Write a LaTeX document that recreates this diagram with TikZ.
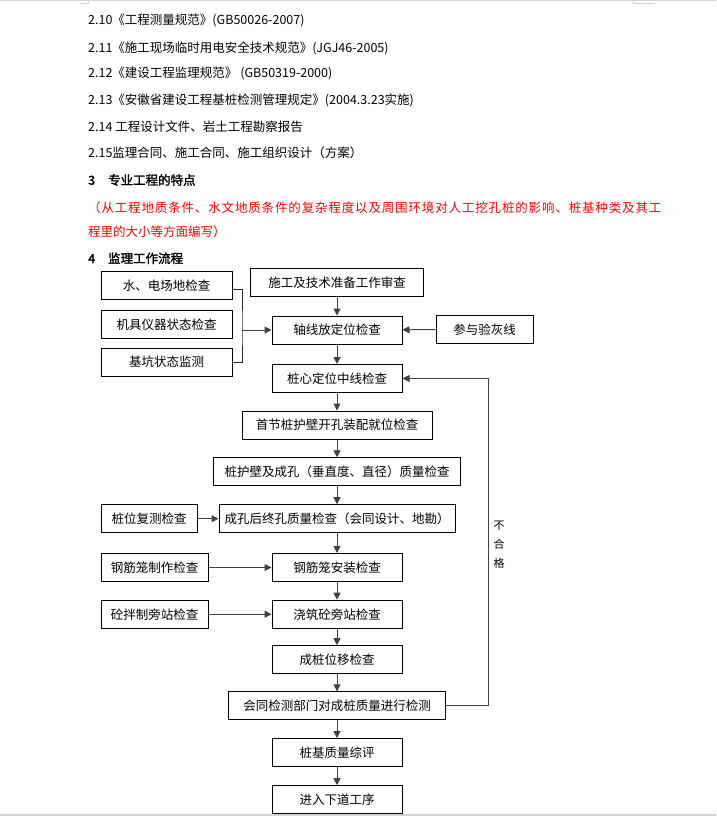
\documentclass[tikz,border=0pt]{standalone}
\usepackage{fontspec}
\setmainfont{Noto Sans CJK SC}
\newfontfamily\headfont[FakeBold=2]{Noto Sans CJK SC}
\usetikzlibrary{arrows.meta}
\usepackage{xcolor}
\definecolor{edge}{HTML}{D4D4D4}
\definecolor{remark}{HTML}{FF0000}

\begin{document}
\begin{tikzpicture}[x=1pt, y=-1pt,
  box/.style = {rectangle, draw=black, line width=1pt, inner sep=0pt,
                minimum height=28pt, font=\fontsize{12.5pt}{15pt}\selectfont},
  txt/.style = {anchor=west, inner sep=0pt, font=\fontsize{12.5pt}{15pt}\selectfont},
  arr/.style = {-{Triangle[length=7pt,width=7pt]}, line width=1pt, color=black!75},
  ln/.style  = {line width=1pt, color=black!85}
]
\useasboundingbox (0,0) rectangle (716,816);
% page edges
\fill[edge] (0,0) rectangle (716,1);
\fill[edge] (0,814) rectangle (716,816);
\draw[edge, line width=1pt] (80,4) -- (88,4) -- (88,0);
\draw[edge, line width=1pt] (633,0) -- (633,4) -- (655,4);

% header text
\node[txt] (l10) at (88, 20.7) {2.10《工程测量规范》(GB50026-2007)};
\node[txt] (l11) at (88, 48.3) {2.11《施工现场临时用电安全技术规范》(JGJ46-2005)};
\node[txt] (l12) at (88, 73.3) {2.12《建设工程监理规范》 (GB50319-2000)};
\node[txt] (l13) at (88, 100) {2.13《安徽省建设工程基桩检测管理规定》(2004.3.23实施)};
\node[txt] (l14) at (88, 126.7) {2.14 工程设计文件、岩土工程勘察报告};
\node[txt] (l15) at (88, 152.7) {2.15监理合同、施工合同、施工组织设计（方案）};
\node[txt, font=\fontsize{12.5pt}{15pt}\selectfont\headfont] (h3) at (88, 180) {3\hspace{13pt}专业工程的特点};
\node[txt, text=remark] (r1) at (88, 207.3) {\addfontfeature{LetterSpace=6.8}（从工程地质条件、水文地质条件的复杂程度以及周围环境对人工挖孔桩的影响、桩基种类及其工};
\node[txt, text=remark] (r2) at (88, 232) {程里的大小等方面编写）};
\node[txt, font=\fontsize{12.5pt}{15pt}\selectfont\headfont] (h4) at (88, 258.3) {4\hspace{13pt}监理工作流程};

% side checks
\node[box, minimum width=131pt] (water) at (166.5, 285.5) {水、电场地检查};
\node[box, minimum width=131pt] (mach)  at (166.5, 324.7) {机具仪器状态检查};
\node[box, minimum width=131pt] (pit)   at (166.5, 362.2) {基坑状态监测};
\node[box, minimum width=97pt]  (lime)  at (484.5, 329.5) {参与验灰线};
\node[box, minimum width=96pt]  (recheck) at (149, 518.7) {桩位复测检查};
\node[box, minimum width=107pt] (cagemk) at (154.7, 567.5) {钢筋笼制作检查};
\node[box, minimum width=107pt] (mixing) at (154.7, 614.2) {砼拌制旁站检查};

% main column
\node[box, minimum width=173pt] (prep)   at (337, 282.5) {施工及技术准备工作审查};
\node[box, minimum width=130pt] (axis)   at (337, 330)   {轴线放定位检查};
\node[box, minimum width=130pt] (center) at (337, 378.5) {桩心定位中线检查};
\node[box, minimum width=190pt] (first)  at (337, 425)   {首节桩护壁开孔装配就位检查};
\node[box, minimum width=247pt] (wall)   at (337, 471.8) {桩护壁及成孔（垂直度、直径）质量检查};
\node[box, minimum width=236pt] (final)  at (337, 518.7) {成孔后终孔质量检查（会同设计、地勘）};
\node[box, minimum width=130pt] (cage)   at (337, 567.5) {钢筋笼安装检查};
\node[box, minimum width=130pt] (pour)   at (337, 614.2) {浇筑砼旁站检查};
\node[box, minimum width=130pt] (disp)   at (337, 659.7) {成桩位移检查};
\node[box, minimum width=217pt] (test)   at (337, 705.8) {会同检测部门对成桩质量进行检测};
\node[box, minimum width=130pt] (eval)   at (337, 752.5) {桩基质量综评};
\node[box, minimum width=130pt] (next)   at (337, 799.7) {进入下道工序};

% main flow
\draw[arr] (prep) -- (axis);
\draw[arr] (axis) -- (center);
\draw[arr] (center) -- (first);
\draw[arr] (first) -- (wall);
\draw[arr] (wall) -- (final);
\draw[arr] (final) -- (cage);
\draw[arr] (cage) -- (pour);
\draw[arr] (pour) -- (disp);
\draw[arr] (disp) -- (test);
\draw[arr] (test) -- (eval);
\draw[arr] (eval) -- (next);

% inputs from the side
\coordinate (brk) at (242, 330);
\draw[ln] ([yshift=-3.5pt]water.east) -| (brk) |- (pit.east);
\draw[arr] (brk) -- (axis.west);
\draw[arr] (lime) -- (axis);
\draw[arr] (recheck) -- (final);
\draw[arr] (cagemk) -- (cage);
\draw[arr] (mixing) -- (pour);

% failed test goes back
\coordinate (fb) at (488.5, 378.5);
\draw[arr] (test.east) -| (fb) -- (center.east);
\node[font=\fontsize{11pt}{19pt}\selectfont, align=center] (fail) at (499, 545) {不\\合\\格};
\end{tikzpicture}
\end{document}
